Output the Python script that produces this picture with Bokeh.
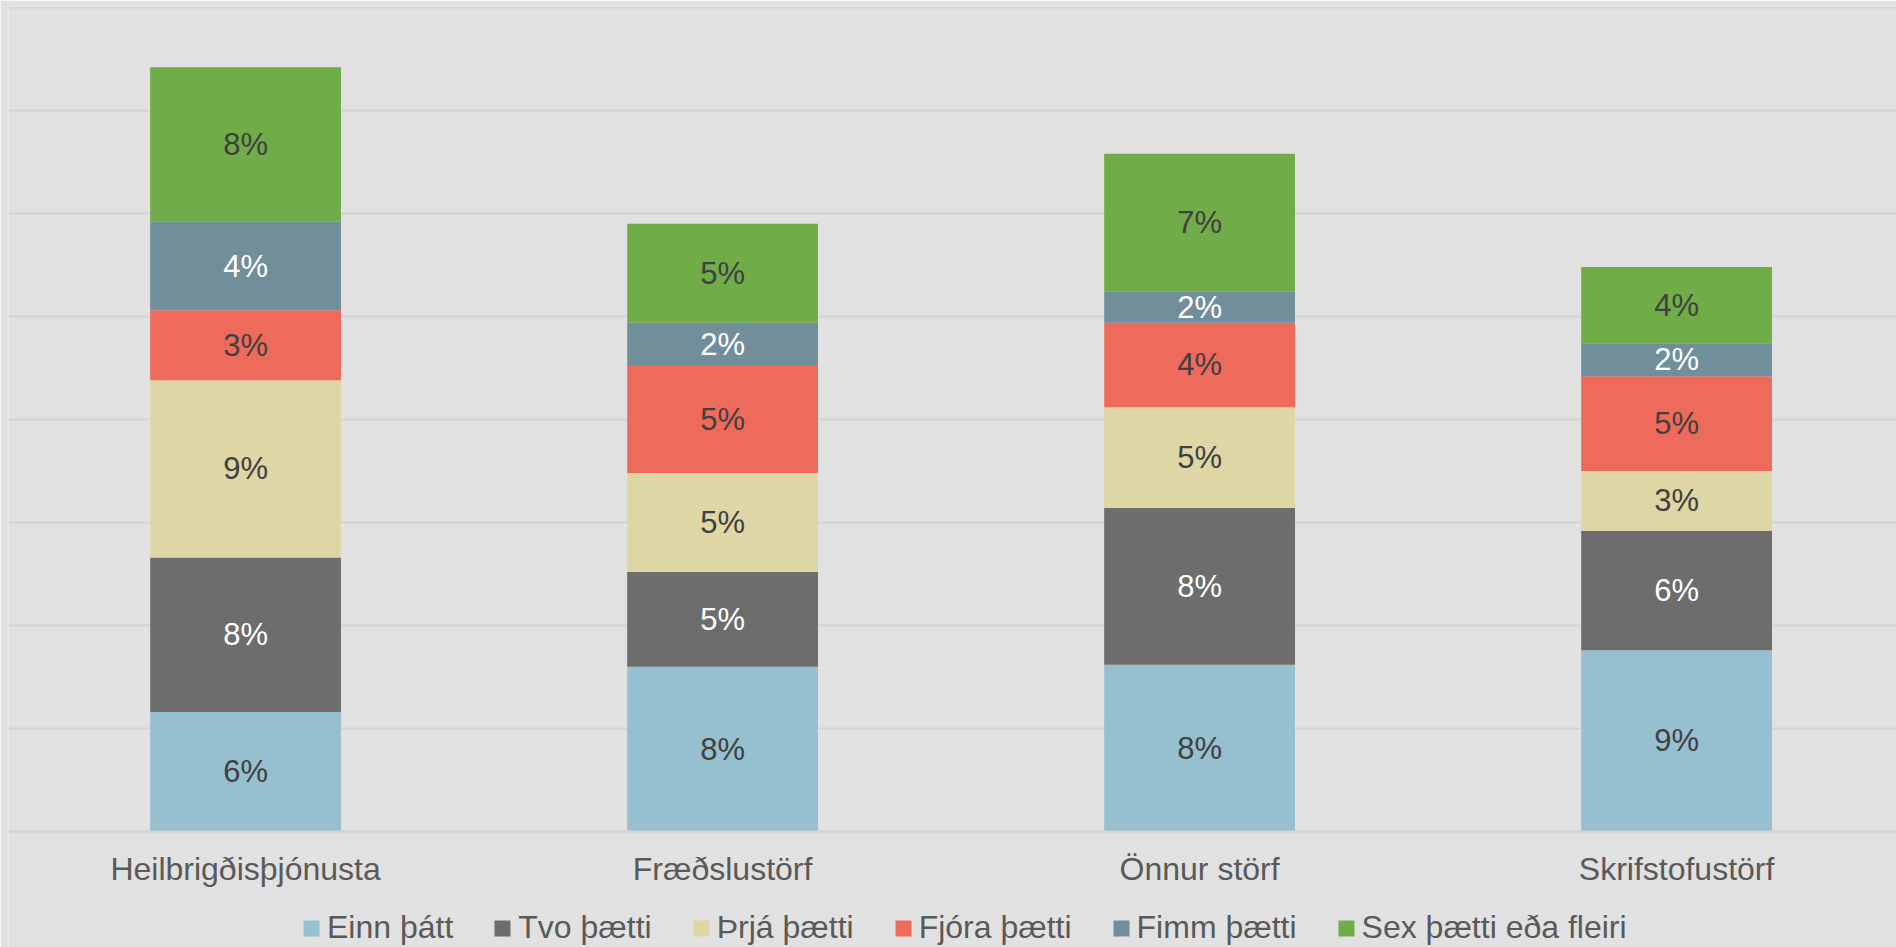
from bokeh.plotting import figure
from bokeh.models import (ColumnDataSource, Range1d, FixedTicker,
                          Legend, LegendItem)
from bokeh.core.properties import value
from bokeh.embed import file_html
from bokeh.resources import INLINE

categories = ["Heilbrigðisþjónusta", "Fræðslustörf", "Önnur störf", "Skrifstofustörf"]
series = ["Einn þátt", "Tvo þætti", "Þrjá þætti", "Fjóra þætti", "Fimm þætti", "Sex þætti eða fleiri"]
einn = [5.8, 8.0, 8.1, 8.8]
tvo = [7.5, 4.6, 7.6, 5.8]
thrja = [8.6, 4.8, 4.9, 2.9]
fjora = [3.4, 5.2, 4.1, 4.6]
fimm = [4.3, 2.1, 1.5, 1.6]
sex = [7.5, 4.8, 6.7, 3.7]
grid_ticks = [0, 5, 10, 15, 20, 25, 30, 35, 40]

colors = ["#96BFCF", "#6D6D6D", "#DFD6A6", "#EE6A5B", "#718F9A", "#70AC47"]
label_colors = ["#404040", "#FFFFFF", "#404040", "#404040", "#FFFFFF", "#404040"]
BG = "#E1E1E1"
GRID = "#D4D4D4"
FONT = "Liberation Sans"

values = [einn, tvo, thrja, fjora, fimm, sex]
xs = list(range(len(categories)))
data = {"x": xs}
for name, v in zip(series, values):
    data[name] = v
source = ColumnDataSource(data)

p = figure(width=1896, height=947, output_backend="svg", toolbar_location=None,
           x_range=Range1d(-0.497, 3.461), y_range=Range1d(-5.631, 40.049),
           min_border_left=8, min_border_right=0, min_border_top=6, min_border_bottom=0)
p.background_fill_color = BG
p.border_fill_color = BG
p.outline_line_color = None

renderers = p.vbar_stack(series, x="x", width=0.40, source=source, color=colors,
                         line_color=None)

# segment labels
for i, (name, v) in enumerate(zip(series, values)):
    base = [sum(values[k][j] for k in range(i)) for j in range(len(categories))]
    mids = [b + val / 2 for b, val in zip(base, v)]
    texts = [f"{int(val + 0.5)}%" for val in v]
    p.text(x=xs, y=mids, text=texts, text_align="center", text_baseline="middle",
           text_font=value(FONT), text_font_size="31px", text_color=label_colors[i])

# axes
p.yaxis.visible = False
p.yaxis.ticker = FixedTicker(ticks=grid_ticks)
p.ygrid.ticker = FixedTicker(ticks=grid_ticks)
p.ygrid.grid_line_color = GRID
p.ygrid.grid_line_width = 2
p.xgrid.grid_line_color = None

p.xaxis.fixed_location = 0
p.xaxis.ticker = FixedTicker(ticks=xs)
p.xaxis.major_label_overrides = {i: c for i, c in enumerate(categories)}
p.xaxis.major_tick_line_color = None
p.xaxis.minor_tick_line_color = None
p.xaxis.axis_line_color = GRID
p.xaxis.axis_line_width = 2
p.xaxis.major_label_standoff = 13
p.xaxis.major_label_text_font = FONT
p.xaxis.major_label_text_font_size = "32px"
p.xaxis.major_label_text_color = "#595959"

items = [LegendItem(label=n, renderers=[r]) for n, r in zip(series, renderers)]
legend = Legend(items=items, orientation="horizontal", location=(293, 1),
                glyph_width=20, glyph_height=20, label_standoff=6, spacing=39,
                padding=0, margin=0, border_line_color=None,
                background_fill_alpha=0,
                label_text_font=FONT, label_text_font_size="32px",
                label_text_color="#595959")
p.add_layout(legend)

html = file_html(p, INLINE)
html = html.replace("<body>", '<body style="background:#E1E1E1">', 1)
open("out.html", "w").write(html)
